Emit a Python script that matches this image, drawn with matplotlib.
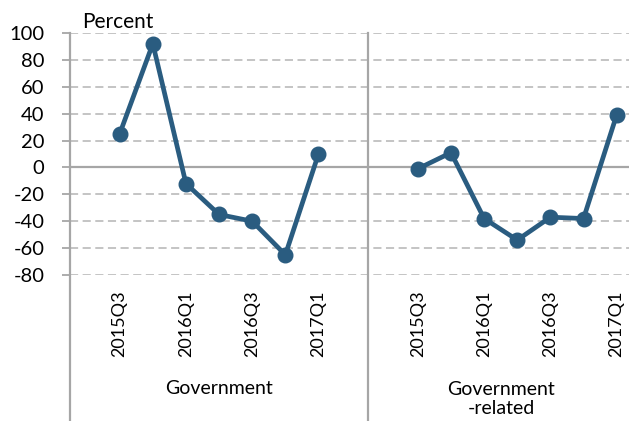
import matplotlib.pyplot as plt
import numpy as np

quarters = ['2015Q3', '2015Q4', '2016Q1', '2016Q2', '2016Q3', '2016Q4', '2017Q1']
government = [25, 92, -12, -35, -40, -65, 10]
government_related = [-1, 11, -38, -54, -37, -38, 39]
panels = ['Government', 'Government\n-related']
yticks = [100, 80, 60, 40, 20, 0, -20, -40, -60, -80]

plt.rcParams['font.family'] = ['Lato', 'DejaVu Sans']
line_col = '#2A5C80'
grey = '#A6A6A6'

W, H = 629, 421
fig = plt.figure(figsize=(W / 100, H / 100), dpi=100)
# axes spans from the left axis line (x=70px) to the right edge
ax = fig.add_axes([70 / W, 1 - 275 / H, 1 - 70 / W, 242 / H])

slot = 33.13
n = len(quarters)
x_left = np.arange(n) + 1.5
x_right = x_left + 9

ax.plot(x_left, government, color=line_col, lw=3.4, marker='o', ms=10.5, solid_capstyle='round')
ax.plot(x_right, government_related, color=line_col, lw=3.4, marker='o', ms=10.5, solid_capstyle='round')

ax.set_xlim(0, (W - 70) / slot)
ax.set_ylim(-80, 100)
ax.set_yticks(yticks)
ax.set_yticklabels([str(v) for v in yticks], fontsize=14.5)
for v in yticks:
    if v == 0:
        ax.axhline(v, color=grey, lw=1.6, zorder=1)
    else:
        ax.axhline(v, color='#BFBFBF', lw=1.3, ls=(0, (4.5, 2.5)), zorder=1)

tick_pos = list(x_left[::2]) + list(x_right[::2])
tick_lab = quarters[::2] * 2
ax.set_xticks(tick_pos)
ax.set_xticklabels(tick_lab, rotation=90, fontsize=13, va='top')
ax.tick_params(axis='x', length=0, pad=11)
ax.tick_params(axis='y', length=6, width=1.3, color=grey, pad=12.5)

for s in ax.spines.values():
    s.set_visible(False)

# vertical axis line and panel divider, extending to the bottom of the figure
for xv in [0, 9]:
    ax.axvline(xv, ymin=-0.61, ymax=1, color=grey, lw=1.6, clip_on=False, zorder=2)

fig.text(219 / W, 1 - 388 / H, panels[0], ha='center', va='center', fontsize=14)
fig.text(501 / W, 1 - 399 / H, panels[1], ha='center', va='center', fontsize=14, linespacing=1.2)
fig.text(82 / W, 1 - 22 / H, 'Percent', ha='left', va='center', fontsize=15)

fig.savefig('out.png', dpi=100)
